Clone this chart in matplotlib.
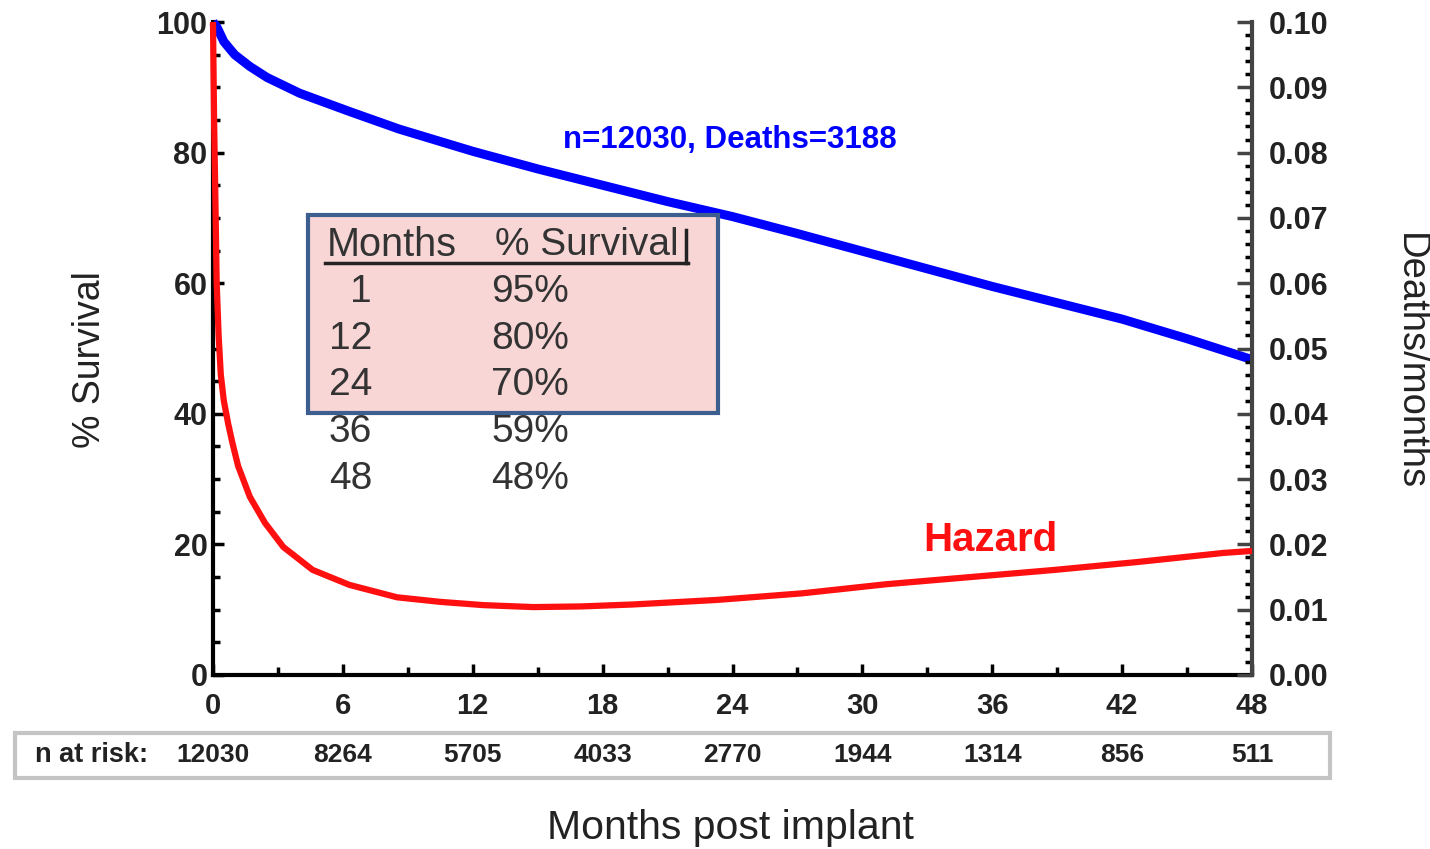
import matplotlib

matplotlib.use("Agg")
import matplotlib.pyplot as plt
from matplotlib.patches import Rectangle
from matplotlib.ticker import MultipleLocator

plt.rcParams["font.family"] = ["Liberation Sans", "DejaVu Sans"]

# Kaplan-Meier survival (%)
surv_months = [0, 0.17, 0.5, 1, 1.7, 2.5, 4, 6.3, 8.6, 10.9, 12, 15, 18, 21,
               24, 27, 30, 33, 36, 39, 42, 45, 48]
surv_pct = [100, 99.3, 97, 95, 93.2, 91.5, 89.1, 86.3, 83.6, 81.3, 80.2, 77.5,
            75, 72.5, 70.2, 67.6, 64.9, 62.2, 59.5, 57, 54.5, 51.5, 48.3]

# Hazard (deaths / month)
haz_months = [0, 0.05, 0.1, 0.17, 0.26, 0.36, 0.5, 0.7, 0.9, 1.16, 1.7, 2.4,
              3.25, 4.6, 6.3, 8.5, 10.5, 12.5, 14.8, 17, 19.4, 23.3, 27.2,
              31.1, 35, 38.9, 42.7, 46.7, 48]
haz_rate = [0.10, 0.085, 0.075, 0.06, 0.052, 0.046, 0.042, 0.0385, 0.0355,
            0.032, 0.0273, 0.0233, 0.0196, 0.0161, 0.0138, 0.0119, 0.0112,
            0.0107, 0.0104, 0.0105, 0.0108, 0.0115, 0.0125, 0.0139, 0.015,
            0.0161, 0.0173, 0.0187, 0.019]

# numbers at risk
risk_months = [0, 6, 12, 18, 24, 30, 36, 42, 48]
n_at_risk = [12030, 8264, 5705, 4033, 2770, 1944, 1314, 856, 511]

# inset table
table_months = ["1", "12", "24", "36", "48"]
table_surv = ["95%", "80%", "70%", "59%", "48%"]

W, H = 1430, 849


def fx(px):
    return px / W


def fy(py):
    return 1 - py / H


fig = plt.figure(figsize=(W / 100, H / 100), dpi=100)
ax = fig.add_axes([fx(213), fy(675), fx(1252) - fx(213), fy(22) - fy(675)])
ax2 = ax.twinx()

ax.set_xlim(0, 48)
ax.set_ylim(0, 100)
ax2.set_ylim(0, 0.10)

ax.plot(surv_months, surv_pct, color="#0000ff", lw=6.5, clip_on=False,
        zorder=3, solid_capstyle="butt")
ax2.plot(haz_months, haz_rate, color="#ff1010", lw=4.5, clip_on=False,
         zorder=3, solid_capstyle="butt")

# spines
for s in ["top", "right"]:
    ax.spines[s].set_visible(False)
for s in ["top", "left", "bottom"]:
    ax2.spines[s].set_visible(False)
ax.spines["left"].set_linewidth(3)
ax.spines["bottom"].set_linewidth(3)
ax2.spines["right"].set_linewidth(3)
ax2.spines["right"].set_color("#444444")

ax.xaxis.set_major_locator(MultipleLocator(6))
ax.xaxis.set_minor_locator(MultipleLocator(3))
ax.yaxis.set_major_locator(MultipleLocator(20))
ax.yaxis.set_minor_locator(MultipleLocator(5))
ax2.yaxis.set_major_locator(MultipleLocator(0.01))
ax2.yaxis.set_minor_locator(MultipleLocator(0.002))
ax2.yaxis.set_major_formatter(matplotlib.ticker.FormatStrFormatter("%.2f"))

ax.tick_params(axis="x", which="major", direction="in", length=8, width=2.5,
               pad=12, labelsize=21)
ax.tick_params(axis="x", which="minor", direction="in", length=6, width=2.5)
ax.tick_params(axis="y", which="major", direction="in", length=8, width=2.5,
               pad=4, labelsize=22)
ax.tick_params(axis="y", which="minor", direction="in", length=5, width=2.5)
ax2.tick_params(axis="y", which="major", direction="in", length=11, width=2.5,
                pad=12, labelsize=22, color="#444444")
ax2.tick_params(axis="y", which="minor", direction="in", length=5, width=2.5)
for lab in ax.get_xticklabels() + ax.get_yticklabels() + ax2.get_yticklabels():
    lab.set_fontweight("bold")
    lab.set_color("#222222")

# axis titles
fig.text(fx(90), fy(360), "% Survival", rotation=90, fontsize=27,
         ha="center", va="center", color="#222222")
fig.text(fx(1410), fy(362), "Deaths/months", rotation=-90, fontsize=27.5,
         ha="center", va="center", color="#222222")
fig.text(fx(730), fy(828), "Months post implant", fontsize=29.5,
         ha="center", va="center", color="#222222")

# curve annotations
ax.text(23.9, 81.9, "n=12030, Deaths=3188", color="#0000ff", fontsize=22.5,
        fontweight="bold", ha="center", va="center")
ax.text(35.9, 20.7, "Hazard", color="#ff1010", fontsize=29,
        fontweight="bold", ha="center", va="center")

# inset table
fig.patches.append(Rectangle((fx(308), fy(413)), fx(718) - fx(308),
                             fy(215) - fy(413), transform=fig.transFigure,
                             facecolor="#f9d6d6", edgecolor="#3c5f8f", lw=3,
                             zorder=5))
fig.text(fx(327), fy(245), "Months", fontsize=28.5, ha="left", va="center",
         color="#333333", zorder=6)
fig.text(fx(495), fy(245), "% Survival", fontsize=28, ha="left", va="center",
         color="#333333", zorder=6)
fig.add_artist(plt.Line2D([fx(325), fx(688)], [fy(263), fy(263)],
                          color="#222222", lw=2.5, transform=fig.transFigure,
                          zorder=6))
fig.add_artist(plt.Line2D([fx(686), fx(686)], [fy(230), fy(263)],
                          color="#222222", lw=2.5, transform=fig.transFigure,
                          zorder=6))
row_y = [292, 339, 385, 432, 479]
for m, s, y in zip(table_months, table_surv, row_y):
    fig.text(fx(372), fy(y), m, fontsize=28, ha="right", va="center",
             color="#333333", zorder=6)
    fig.text(fx(491), fy(y), s, fontsize=28, ha="left", va="center",
             color="#333333", zorder=6)

# n at risk row
fig.patches.append(Rectangle((fx(15), fy(778)), fx(1330) - fx(15),
                             fy(733) - fy(778), transform=fig.transFigure,
                             facecolor="white", edgecolor="#c4c4c4", lw=3))
fig.text(fx(35), fy(755), "n at risk:", fontsize=19.5, fontweight="bold",
         ha="left", va="center", color="#222222")
risk_tr = matplotlib.transforms.blended_transform_factory(ax.transData,
                                                         fig.transFigure)
for m, n in zip(risk_months, n_at_risk):
    fig.text(m, fy(755), str(n), fontsize=19, fontweight="bold", ha="center",
             va="center", color="#222222", transform=risk_tr)

fig.savefig("out.png", dpi=100)
